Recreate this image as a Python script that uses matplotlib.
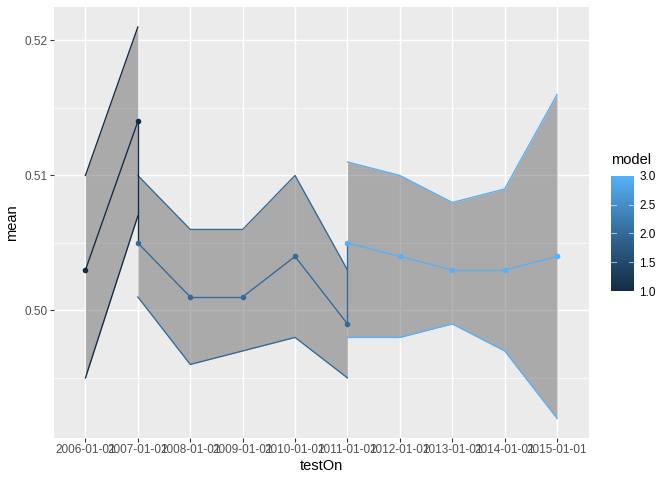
import matplotlib
matplotlib.use("Agg")
import matplotlib.pyplot as plt
import matplotlib.colors as mcolors
from matplotlib.colorbar import ColorbarBase

plt.rcParams['font.family'] = ['Liberation Sans', 'DejaVu Sans']

# dados
datas = ['2006-01-01', '2007-01-01', '2008-01-01', '2009-01-01', '2010-01-01',
         '2011-01-01', '2012-01-01', '2013-01-01', '2014-01-01', '2015-01-01']

modelos = [1, 2, 3]
x_m1 = ['2006-01-01', '2007-01-01']
media_m1 = [0.503, 0.514]
inf_m1 = [0.495, 0.507]
sup_m1 = [0.510, 0.521]

x_m2 = ['2007-01-01', '2008-01-01', '2009-01-01', '2010-01-01', '2011-01-01']
media_m2 = [0.505, 0.501, 0.501, 0.504, 0.499]
inf_m2 = [0.501, 0.496, 0.497, 0.498, 0.495]
sup_m2 = [0.510, 0.506, 0.506, 0.510, 0.503]

x_m3 = ['2011-01-01', '2012-01-01', '2013-01-01', '2014-01-01', '2015-01-01']
media_m3 = [0.505, 0.504, 0.503, 0.503, 0.504]
inf_m3 = [0.498, 0.498, 0.499, 0.497, 0.492]
sup_m3 = [0.511, 0.510, 0.508, 0.509, 0.516]

cmap = mcolors.LinearSegmentedColormap.from_list('gg', ['#132B43', '#336A98', '#56B1F7'])
norm = mcolors.Normalize(1, 3)

fig = plt.figure(figsize=(7, 5), dpi=96)
ax = fig.add_axes([54 / 672, 1 - 438 / 480, (588.5 - 54) / 672, (438 - 7.4) / 480])
ax.set_facecolor('#EBEBEB')
for s in ax.spines.values():
    s.set_visible(False)

pos = {d: i for i, d in enumerate(datas)}
grupos = [(1, x_m1, media_m1, inf_m1, sup_m1),
          (2, x_m2, media_m2, inf_m2, sup_m2),
          (3, x_m3, media_m3, inf_m3, sup_m3)]

# faixas de cada modelo
for m, xs, med, inf, sup in grupos:
    xp = [pos[d] for d in xs]
    cor = cmap(norm(m))
    ax.fill_between(xp, inf, sup, color='#6B6B6B', alpha=0.5, linewidth=0, zorder=2)
    ax.plot(xp, sup, color=cor, lw=1.0, zorder=3)
    ax.plot(xp, inf, color=cor, lw=1.0, zorder=3)

# linha da media, um caminho so, cada segmento com a cor do ponto inicial
pts = []
for m, xs, med, inf, sup in grupos:
    for d, v in zip(xs, med):
        pts.append((pos[d], v, m))
for a, b in zip(pts[:-1], pts[1:]):
    ax.plot([a[0], b[0]], [a[1], b[1]], color=cmap(norm(a[2])), lw=1.0, zorder=4)
for x, y, m in pts:
    ax.plot(x, y, 'o', color=cmap(norm(m)), ms=4.2, mew=0, zorder=5)

ax.set_xlim(-0.6, 9.6)
lo, hi = 0.492, 0.521
ex = (hi - lo) * 0.05
ax.set_ylim(lo - ex, hi + ex)
ax.set_xticks(range(len(datas)))
ax.set_xticklabels(datas)
ax.set_yticks([0.50, 0.51, 0.52])
ax.set_yticklabels(['0.50', '0.51', '0.52'])
ax.set_yticks([0.495, 0.505, 0.515], minor=True)
ax.grid(which='major', color='white', lw=1.07, zorder=0)
ax.grid(which='minor', axis='y', color='white', lw=0.53, zorder=0)
ax.set_axisbelow(True)
ax.tick_params(which='major', length=2.75, width=0.8, color='#333333',
               labelsize=8.8, labelcolor='#4D4D4D', pad=2)
ax.tick_params(which='minor', length=0)
ax.set_xlabel('testOn', fontsize=11, labelpad=2)
ax.set_ylabel('mean', fontsize=11, labelpad=4)

# legenda em barra de cores
cax = fig.add_axes([611 / 672, 1 - 291 / 480, 23 / 672, 115 / 480])
cb = ColorbarBase(cax, cmap=cmap, norm=norm, orientation='vertical')
cb.outline.set_visible(False)
cb.set_ticks([1.0, 1.5, 2.0, 2.5, 3.0])
cb.set_ticklabels(['1.0', '1.5', '2.0', '2.5', '3.0'])
cax.tick_params(length=0, labelsize=8.8, labelcolor='black', pad=4)
for v in [1.5, 2.0, 2.5]:
    cax.plot([0, 0.2], [v, v], color='white', lw=0.8, alpha=0.6, transform=cax.get_yaxis_transform())
    cax.plot([0.8, 1], [v, v], color='white', lw=0.8, alpha=0.6, transform=cax.get_yaxis_transform())
fig.text(611 / 672, 1 - 160 / 480, 'model', fontsize=11, va='center', ha='left')

fig.savefig('out.png', dpi=96)
